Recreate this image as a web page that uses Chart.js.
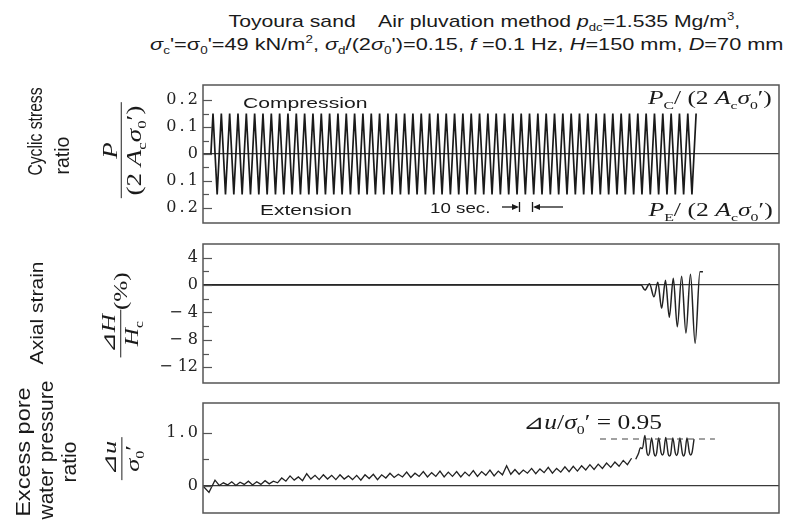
<!DOCTYPE html>
<html>
<head>
<meta charset="utf-8">
<script src="https://cdn.jsdelivr.net/npm/chart.js@4.4.1/dist/chart.umd.min.js"></script>
<style>
  html, body { margin: 0; padding: 0; background: #fff; }
  #page { position: relative; width: 801px; height: 526px; overflow: hidden;
          font-family: 'Liberation Sans', Arial, sans-serif; color: #1a1a1a; }
  canvas { position: absolute; left: 0; }
  .note  { position: absolute; white-space: nowrap; line-height: 1.15; transform-origin: 50% 50%; }
  .serif { font-family: 'Liberation Serif', 'DejaVu Sans', 'Noto Sans CJK JP', serif; }
  sub, sup { font-size: 0.62em; line-height: 0; }
  .frac { display: inline-flex; flex-direction: column; align-items: center; vertical-align: middle; }
  .frac .num { border-bottom: 1.4px solid #222; padding: 0 3px; line-height: 1.1; align-self: stretch; text-align: center; }
  .frac .den { line-height: 1.2; padding: 0 2px; }
  .row { display: inline-flex; align-items: center; }
</style>
</head>
<body>
<div id="page">
  <canvas id="stressChart" width="801" height="165" style="top:70px"></canvas>
  <canvas id="strainChart" width="801" height="165" style="top:230px"></canvas>
  <canvas id="poreChart"   width="801" height="137" style="top:389px"></canvas>

  <!-- title -->
  <div class="note" data-cx="484" data-cy="22" data-len="512" style="font-size:17px">Toyoura sand&nbsp;&nbsp;&nbsp; Air pluvation method <i>p</i><sub>dc</sub>=1.535 Mg/m<sup>3</sup>,</div>
  <div class="note" data-cx="467" data-cy="45" data-len="634" style="font-size:17px"><i>σ</i><sub>c</sub>'=σ<sub>0</sub>'=49 kN/m<sup>2</sup>, <i>σ</i><sub>d</sub>/(2<i>σ</i><sub>0</sub>')=0.15, <i>f</i> =0.1 Hz, <i>H</i>=150 mm, <i>D</i>=70 mm</div>

  <!-- panel 1 labels -->
  <div class="note" data-cx="35" data-cy="131" data-len="88" data-rot="-90" style="font-size:20px">Cyclic stress</div>
  <div class="note" data-cx="62" data-cy="155" data-len="38" data-rot="-90" style="font-size:20px">ratio</div>
  <div class="note serif" data-cx="122" data-cy="150" data-len="96" data-rot="-90" style="font-size:20px">
    <span class="frac"><span class="num"><i>P</i></span><span class="den">(2 <i>A</i><sub>c</sub><i>σ</i><sub>0</sub>′)</span></span>
  </div>
  <div class="note" data-cx="305" data-cy="102" data-len="124" style="font-size:15px">Compression</div>
  <div class="note" data-cx="306" data-cy="209" data-len="92" style="font-size:15px">Extension</div>
  <div class="note" data-cx="460" data-cy="207" data-len="60" style="font-size:15px">10 sec.</div>
  <svg style="position:absolute;left:495px;top:200px" width="75" height="16">
    <g stroke="#1a1a1a" stroke-width="1.3" fill="#1a1a1a">
      <line x1="7" y1="7" x2="22" y2="7"/><polygon points="24,7 17,4 17,10" stroke="none"/>
      <line x1="24.5" y1="2" x2="24.5" y2="12"/>
      <line x1="37.5" y1="2" x2="37.5" y2="12"/>
      <line x1="40" y1="7" x2="68" y2="7"/><polygon points="38,7 45,4 45,10" stroke="none"/>
    </g>
  </svg>
  <div class="note serif" data-cx="710" data-cy="98" data-len="124" style="font-size:18px"><i>P</i><sub>C</sub>/ (2 <i>A</i><sub>c</sub><i>σ</i><sub>0</sub>′)</div>
  <div class="note serif" data-cx="710" data-cy="210" data-len="124" style="font-size:18px"><i>P</i><sub>E</sub>/ (2 <i>A</i><sub>c</sub><i>σ</i><sub>0</sub>′)</div>

  <!-- panel 2 labels -->
  <div class="note" data-cx="36" data-cy="313" data-len="103" data-rot="-90" style="font-size:19px">Axial strain</div>
  <div class="note serif" data-cx="121" data-cy="315" data-len="85" data-rot="-90" style="font-size:19px">
    <span class="row"><span class="frac"><span class="num">⊿<i>H</i></span><span class="den"><i>H</i><sub>c</sub></span></span><span>(%)</span></span>
  </div>

  <!-- panel 3 labels -->
  <div class="note" data-cx="23" data-cy="452" data-len="130" data-rot="-90" style="font-size:21px">Excess pore</div>
  <div class="note" data-cx="46" data-cy="450" data-len="139" data-rot="-90" style="font-size:21px">water pressure</div>
  <div class="note" data-cx="69" data-cy="462" data-len="41" data-rot="-90" style="font-size:21px">ratio</div>
  <div class="note serif" data-cx="122" data-cy="458" data-len="43" data-rot="-90" style="font-size:19px">
    <span class="frac"><span class="num">⊿<i>u</i></span><span class="den"><i>σ</i><sub>0</sub>′</span></span>
  </div>
  <div class="note serif" data-cx="592" data-cy="422" data-len="139" style="font-size:20px">⊿<i>u</i>/<i>σ</i><sub>0</sub>′ = 0.95</div>
</div>

<script>
// ── Data ────────────────────────────────────────────────
// time axis is in loading cycles (one cycle = 10 s)
const TIME_MAX = 69.15;

// cyclic stress ratio, one value per half cycle (0.15 / -0.15)
const stressRatio = [
  0,
  0.15, -0.15, 0.15, -0.15, 0.15, -0.15, 0.15, -0.15, 0.15, -0.15,
  0.15, -0.15, 0.15, -0.15, 0.15, -0.15, 0.15, -0.15, 0.15, -0.15,
  0.15, -0.15, 0.15, -0.15, 0.15, -0.15, 0.15, -0.15, 0.15, -0.15,
  0.15, -0.15, 0.15, -0.15, 0.15, -0.15, 0.15, -0.15, 0.15, -0.15,
  0.15, -0.15, 0.15, -0.15, 0.15, -0.15, 0.15, -0.15, 0.15, -0.15,
  0.15, -0.15, 0.15, -0.15, 0.15, -0.15, 0.15, -0.15, 0.15, -0.15,
  0.15, -0.15, 0.15, -0.15, 0.15, -0.15, 0.15, -0.15, 0.15, -0.15,
  0.15, -0.15, 0.15, -0.15, 0.15, -0.15, 0.15, -0.15, 0.15, -0.15,
  0.15, -0.15, 0.15, -0.15, 0.15, -0.15, 0.15, -0.15, 0.15, -0.15,
  0.15, -0.15, 0.15, -0.15, 0.15, -0.15, 0.15, -0.15, 0.15, -0.15,
  0.15, -0.15, 0.15, -0.15, 0.15, -0.15, 0.15, -0.15, 0.15, -0.15,
  0.15, -0.15, 0.15, -0.15, 0.15, -0.15,
  0.15
];

// axial strain (%)
const strainTime  = [0, 52.6, 53.06, 53.6, 54.14, 54.6, 55.06, 55.52, 55.98, 56.46, 56.94, 57.46, 57.98, 58.52, 59.08, 59.66, 60.02];
const strainValue = [0, 0, -0.73, 0.2, -1.7, 0.4, -3.4, 0.7, -4.7, 1.0, -6.1, 1.3, -7.0, 1.6, -8.5, 1.95, 1.95];

// excess pore water pressure ratio
const poreStartTime  = [0, 0.72, 1.44];
const poreStartValue = [0, -0.12, 0.11];
const poreTroughs = [
  0.01, 0.02, 0.01, 0.03, 0.02, 0.03, 0.04, 0.06, 0.09, 0.11,
  0.10, 0.13, 0.12, 0.13, 0.12, 0.13, 0.12, 0.11, 0.14, 0.12,
  0.15, 0.16, 0.17, 0.16, 0.18, 0.17, 0.18, 0.17, 0.18, 0.17,
  0.19, 0.18, 0.20, 0.19, 0.21, 0.22, 0.22, 0.24, 0.23, 0.25,
  0.24, 0.26, 0.27, 0.28, 0.30, 0.31, 0.33, 0.35, 0.37, 0.40
];
const porePeaks = [
  0.06, 0.08, 0.07, 0.09, 0.08, 0.10, 0.09, 0.15, 0.19, 0.17,
  0.23, 0.20, 0.21, 0.20, 0.21, 0.19, 0.20, 0.21, 0.22, 0.21,
  0.24, 0.22, 0.26, 0.24, 0.27, 0.25, 0.28, 0.26, 0.27, 0.26,
  0.29, 0.27, 0.30, 0.28, 0.38, 0.31, 0.30, 0.33, 0.32, 0.35,
  0.33, 0.36, 0.37, 0.38, 0.40, 0.41, 0.43, 0.45, 0.48, 0.52
];
// liquefied state: pore pressure swinging just under 0.95
const poreTailTime = [
  51.95, 52.3, 52.5, 52.75, 53.05,
  53.3, 53.45, 53.6, 53.85,
  54.15, 54.3, 54.45, 54.7,
  55.0, 55.15, 55.3, 55.55,
  55.85, 56.0, 56.15, 56.4,
  56.7, 56.85, 57.0, 57.25,
  57.55, 57.7, 57.85, 58.1,
  58.4, 58.55, 58.7, 58.95
];
const poreTailValue = [
  0.50, 0.62, 0.72, 0.70, 0.95,
  0.62, 0.57, 0.62, 0.90,
  0.61, 0.56, 0.61, 0.90,
  0.62, 0.58, 0.62, 0.91,
  0.60, 0.56, 0.60, 0.90,
  0.62, 0.57, 0.62, 0.90,
  0.61, 0.56, 0.61, 0.90,
  0.62, 0.58, 0.62, 0.88
];
const poreLimitTime  = [47.66, 61.46];
const poreLimitValue = [0.88, 0.88];

// ── Axis ticks ──────────────────────────────────────────
const stressTicks  = [0.2, 0.1, 0, -0.1, -0.2];
const stressLabels = ["0\u2009.\u20092", "0\u2009.\u20091", "0", "0\u2009.\u20091", "0\u2009.\u20092"];
const stressMinor  = [0.15, 0.05, -0.05, -0.15];
const strainTicks  = [4, 0, -4, -8, -12];
const strainLabels = ["4", "0", "\u2212 4", "\u2212 8", "\u2212 12"];
const strainMinor  = [2, -2, -6, -10];
const poreTicks    = [1.0, 0];
const poreLabels   = ["1\u2009.\u20090", "0"];
const poreMinor    = [0.5];

// ── Style ───────────────────────────────────────────────
const INK   = "#222222";
const FRAME = "#555555";

function pairs(xs, ys) {
  return ys.map(function (y, i) { return { x: xs[i], y: y }; });
}

// stress peaks sit on a half-cycle grid starting at cycle 1.2
function stressPoints() {
  return stressRatio.map(function (v, i) {
    return { x: i === 0 ? 0.95 : 0.7 + 0.5 * i, y: v };
  });
}

// pore pressure: trough of cycle k at k+0.95, peak at k+1.45
function porePoints() {
  var pts = pairs(poreStartTime, poreStartValue);
  poreTroughs.forEach(function (t, i) {
    var k = i + 1;
    pts.push({ x: k + 0.95, y: t });
    pts.push({ x: k + 1.45, y: porePeaks[i] });
  });
  return pts;
}

// frame + inward tick marks
function frameAndTicks(major) {
  return {
    id: "frameAndTicks",
    afterDatasetsDraw: function (chart) {
      var ctx = chart.ctx, a = chart.chartArea, y = chart.scales.y;
      ctx.save();
      ctx.strokeStyle = FRAME;
      ctx.lineWidth = 1.5;
      ctx.strokeRect(a.left, a.top, a.right - a.left, a.bottom - a.top);
      ctx.lineWidth = 1.2;
      y.ticks.forEach(function (t) {
        var py = Math.round(y.getPixelForValue(t.value)) + 0.5;
        var len = major.indexOf(t.value) >= 0 ? 9 : 6;
        ctx.beginPath();
        ctx.moveTo(a.left, py);
        ctx.lineTo(a.left + len, py);
        ctx.stroke();
      });
      ctx.restore();
    }
  };
}

function makePanel(id, o) {
  return new Chart(document.getElementById(id), {
    type: "line",
    data: { datasets: o.datasets },
    options: {
      responsive: false,
      animation: false,
      layout: { padding: { top: o.padTop, bottom: o.padBottom, left: 0, right: 22 } },
      plugins: { legend: { display: false }, tooltip: { enabled: false } },
      elements: {
        point: { radius: 0 },
        line:  { borderColor: INK, borderWidth: 1.3, fill: false }
      },
      scales: {
        x: { type: "linear", display: false, min: 0, max: TIME_MAX },
        y: {
          position: "left",
          min: o.min, max: o.max,
          border: { display: false },
          grid: {
            drawTicks: false,
            lineWidth: 1.3,
            color: function (c) { return c.tick && c.tick.value === 0 ? "#3a3a3a" : "rgba(0,0,0,0)"; }
          },
          ticks: {
            autoSkip: false,
            padding: 5,
            color: "#222",
            font: { family: "'DejaVu Serif', serif", size: 16 },
            callback: function (v) {
              var i = o.major.indexOf(v);
              return i >= 0 ? o.labels[i] : "";
            }
          },
          afterBuildTicks: function (s) {
            s.ticks = o.major.concat(o.minor).map(function (v) { return { value: v }; });
          },
          afterFit: function (s) { s.width = 203; s.paddingTop = 0; s.paddingBottom = 0; }
        }
      }
    },
    plugins: [frameAndTicks(o.major)]
  });
}

// ── 1. Cyclic stress ratio ──────────────────────────────
makePanel("stressChart", {
  min: -0.2556, max: 0.2556, padTop: 15, padBottom: 12,
  major: stressTicks, labels: stressLabels, minor: stressMinor,
  datasets: [{ data: stressPoints(), borderWidth: 1.7, borderColor: "#1a1a1a" }]
});

// ── 2. Axial strain ─────────────────────────────────────
makePanel("strainChart", {
  min: -14.3, max: 6.0, padTop: 14, padBottom: 12,
  major: strainTicks, labels: strainLabels, minor: strainMinor,
  datasets: [{ data: pairs(strainTime, strainValue), cubicInterpolationMode: "monotone", borderWidth: 1.5 }]
});

// ── 3. Excess pore water pressure ratio ─────────────────
makePanel("poreChart", {
  min: -0.506, max: 1.556, padTop: 14, padBottom: 13,
  major: poreTicks, labels: poreLabels, minor: poreMinor,
  datasets: [
    { data: pairs(poreLimitTime, poreLimitValue), borderDash: [6, 5], borderWidth: 1.1, borderColor: "#444" },
    { data: porePoints(), borderWidth: 1.3 },
    { data: pairs(poreTailTime, poreTailValue), cubicInterpolationMode: "monotone", borderWidth: 1.4 }
  ]
});

// ── Place and stretch the text notes ────────────────────
document.querySelectorAll(".note").forEach(function (el) {
  var w = el.offsetWidth, h = el.offsetHeight;
  var k = +el.dataset.len / w;
  el.style.left = (el.dataset.cx - w / 2) + "px";
  el.style.top  = (el.dataset.cy - h / 2) + "px";
  el.style.transform = "rotate(" + (el.dataset.rot || 0) + "deg) scaleX(" + k + ")";
});
</script>
</body>
</html>
